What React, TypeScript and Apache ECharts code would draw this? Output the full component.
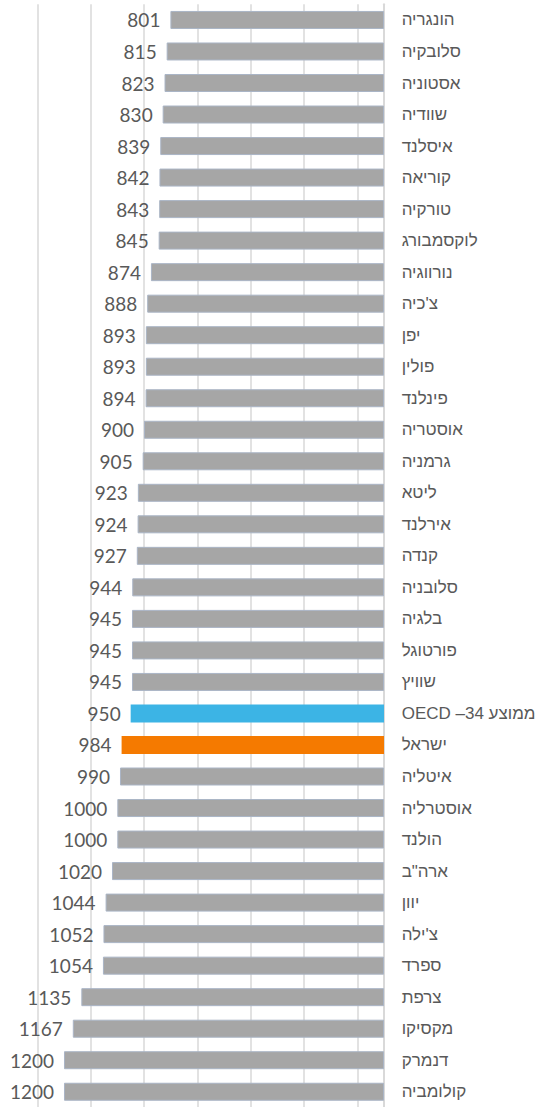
import React, { useEffect, useRef } from "react";
import * as echarts from "echarts";

const categories = [
  "הונגריה", "סלובקיה", "אסטוניה", "שוודיה", "איסלנד", "קוריאה", "טורקיה", "לוקסמבורג",
  "נורווגיה", "צ'כיה", "יפן", "פולין", "פינלנד", "אוסטריה", "גרמניה", "ליטא", "אירלנד",
  "קנדה", "סלובניה", "בלגיה", "פורטוגל", "שוויץ", "OECD –34 ממוצע", "ישראל", "איטליה",
  "אוסטרליה", "הולנד", 'ארה"ב', "יוון", "צ'ילה", "ספרד", "צרפת", "מקסיקו", "דנמרק", "קולומביה",
];

const values = [
  801, 815, 823, 830, 839, 842, 843, 845, 874, 888, 893, 893, 894, 900, 905, 923, 924,
  927, 944, 945, 945, 945, 950, 984, 990, 1000, 1000, 1020, 1044, 1052, 1054, 1135, 1167, 1200, 1200,
];

const highlight: Record<string, string> = {
  "OECD –34 ממוצע": "#3cb4e5",
  "ישראל": "#f57a00",
};

export default function App() {
  const ref = useRef<HTMLDivElement>(null);
  useEffect(() => {
    if (!ref.current) return;
    const chart = echarts.init(ref.current, undefined, { renderer: "svg" });
    chart.setOption({
      animation: false,
      grid: {
        left: 37.33,
        right: 136.33,
        top: 4.2,
        bottom: -0.5,
        containLabel: false,
        outerBoundsMode: "none",
      },
      xAxis: {
        type: "value",
        inverse: true,
        min: -100,
        max: 1300,
        interval: 200,
        axisLabel: { show: false },
        axisTick: { show: false },
        axisLine: { show: false },
        splitLine: {
          show: true,
          showMinLine: false,
          lineStyle: { color: "#d9d9d9", width: 1.5 },
        },
      },
      yAxis: {
        type: "category",
        data: categories,
        inverse: true,
        position: "right",
        axisLine: { show: true, onZero: true, lineStyle: { color: "#d9d9d9", width: 2 } },
        axisTick: { show: false },
        axisLabel: {
          margin: -9,
          color: "#595959",
          fontSize: 17,
          fontFamily: "Liberation Sans, DejaVu Sans, sans-serif",
          align: "left",
        },
      },
      series: [
        {
          type: "bar",
          barWidth: 18,
          data: values.map((v, i) => {
            const c = highlight[categories[i]];
            return {
              value: v,
              itemStyle: c
                ? { color: c }
                : { color: "#a6a6a6", borderColor: "#aab5c6", borderWidth: 1 },
            };
          }),
          label: {
            show: true,
            position: "left",
            distance: 10,
            color: "#595959",
            fontSize: 19,
            fontFamily: "Lato, Open Sans, sans-serif",
          },
        },
      ],
    });
    return () => chart.dispose();
  }, []);
  return (
    <div
      ref={ref}
      style={{ position: "fixed", left: 0, top: 0, width: 547, height: 1107, background: "#fff" }}
    />
  );
}
